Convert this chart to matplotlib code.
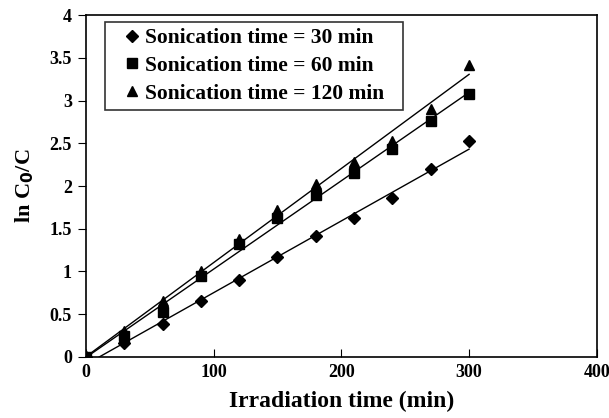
import matplotlib
matplotlib.use("Agg")
import matplotlib.pyplot as plt
import numpy as np

time = [0, 30, 60, 90, 120, 150, 180, 210, 240, 270, 300]
son_30 = [0, 0.16, 0.38, 0.65, 0.90, 1.17, 1.42, 1.62, 1.86, 2.20, 2.53]
son_60 = [0, 0.25, 0.53, 0.95, 1.32, 1.62, 1.90, 2.15, 2.43, 2.76, 3.08]
son_120 = [0, 0.30, 0.65, 1.00, 1.38, 1.72, 2.02, 2.28, 2.53, 2.90, 3.42]
labels = ["Sonication time = 30 min", "Sonication time = 60 min", "Sonication time = 120 min"]
markers = ["D", "s", "^"]
sizes = [6, 6.5, 7.5]

plt.rcParams["font.family"] = "Liberation Serif"
plt.rcParams["font.weight"] = "bold"

fig = plt.figure(figsize=(6.09, 4.18), dpi=100)
ax = fig.add_axes([0.141, 0.146, 0.839, 0.818])

x = np.array(time)
for series, label, m, ms in zip([son_30, son_60, son_120], labels, markers, sizes):
    y = np.array(series)
    ax.plot(x, y, linestyle="none", marker=m, markersize=ms, color="black", label=label)
    k, b = np.polyfit(x, y, 1)
    x0 = max(0, -b / k)
    xs = np.array([x0, 300])
    ax.plot(xs, k * xs + b, color="black", linewidth=1.0)

ax.set_xlim(0, 400)
ax.set_ylim(0, 4)
ax.set_xticks([0, 100, 200, 300, 400])
ax.set_yticks([0, 0.5, 1, 1.5, 2, 2.5, 3, 3.5, 4])
ax.set_yticklabels(["0", "0.5", "1", "1.5", "2", "2.5", "3", "3.5", "4"])
ax.tick_params(axis="x", direction="in", length=6, labelsize=13, pad=5)
ax.tick_params(axis="y", direction="out", length=6, labelsize=13, pad=4)
for s in ax.spines.values():
    s.set_linewidth(1.2)
ax.set_xlabel("Irradiation time (min)", fontsize=17, fontweight="bold", labelpad=7)
ax.set_ylabel("ln C$_\\mathbf{0}$/C", fontsize=16, fontweight="bold", labelpad=10)

leg = ax.legend(loc="upper left", fontsize=15.5, frameon=True, fancybox=False,
                edgecolor="black", handletextpad=-0.35, borderpad=0.3,
                handlelength=1.9, labelspacing=0.35, borderaxespad=0,
                mode="expand", bbox_to_anchor=(0.037, 0.5, 0.583, 0.48))
leg.get_frame().set_linewidth(1.2)

fig.savefig("out.png", dpi=100)
